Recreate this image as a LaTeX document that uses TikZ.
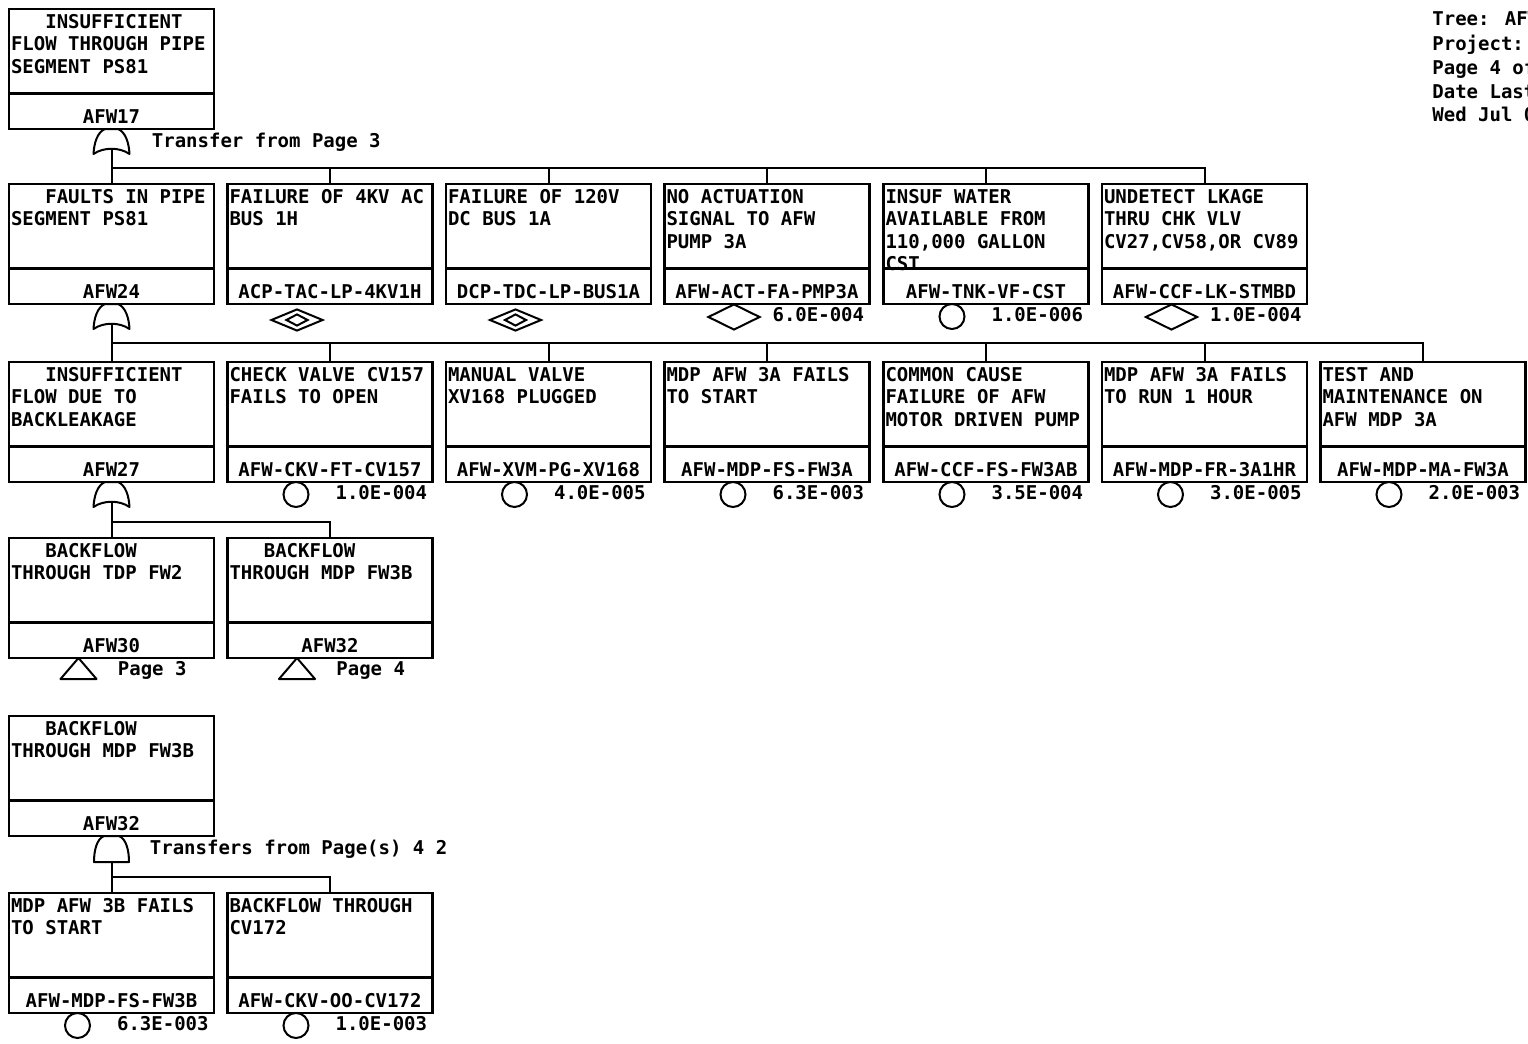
\documentclass[tikz,border=0pt]{standalone}
\usepackage{fontspec}
\setmainfont{DejaVu Sans Mono}
\usetikzlibrary{positioning,shapes.geometric,calc}

% gate and transfer symbols, drawn below a box
\newcommand{\orgate}[1]{%
  \draw[gateline,shift={(#1)}] (-6.5,0) -- (6.5,0)
    .. controls (14,3) and (17.5,14) .. (18,25)
    .. controls (8,18) and (-8,18) .. (-18,25)
    .. controls (-17.5,14) and (-14,3) .. (-6.5,0) -- cycle;}
\newcommand{\andgate}[1]{%
  \draw[gateline,shift={(#1)}] (-7.5,0) -- (7.5,0)
    .. controls (15,3) and (17.5,15) .. (17.5,26) -- (-17.5,26)
    .. controls (-17.5,15) and (-15,3) .. (-7.5,0) -- cycle;}
\newcommand{\transfer}[1]{%
  \draw[gateline,shift={(#1)}] (0,0) -- (18,21) -- (-18,21) -- cycle;}

\begin{document}
\begin{tikzpicture}[x=0.5pt,y=-0.5pt,
  every node/.style={font=\fontsize{9.5}{11.25}\selectfont\bfseries},
  descbox/.style={draw,line width=1.1pt,anchor=north west,inner sep=0pt,
    outer sep=0pt,minimum width=102.5pt,
    execute at begin node={\begin{minipage}[c][42.25pt][t]{100.5pt}\baselineskip=11.25pt\rule{0pt}{9.5pt}},
    execute at end node={\end{minipage}}},
  idbox/.style={draw,line width=1.1pt,inner sep=0pt,outer sep=0pt,
    minimum width=102.5pt,minimum height=17.75pt,text height=12.5pt,text depth=0pt},
  basic/.style={circle,draw,line width=1pt,inner sep=0pt,minimum size=12.5pt},
  undev/.style={diamond,draw,line width=1pt,inner sep=0pt,
    minimum width=26pt,minimum height=13pt},
  house/.style={diamond,draw,line width=1pt,inner sep=0pt,
    minimum width=26pt,minimum height=11pt},
  housein/.style={diamond,draw,line width=1pt,inner sep=0pt,
    minimum width=11pt,minimum height=6pt},
  prob/.style={anchor=north east,inner sep=0pt},
  lbl/.style={anchor=base west,inner sep=0pt},
  gateline/.style={line width=1pt,line join=round},
  wire/.style={line width=1pt}]
\useasboundingbox (0,0) rectangle (1528,1044);

% header, cut by the page edge
\begin{scope}
\clip (0,0) rectangle (1528,1044);
\node[lbl] (H1) at (1432,25.5)  {Tree: AFW};
\node[lbl] (H2) at (1432,50)    {Project:};
\node[lbl] (H3) at (1432,74)    {Page 4 of};
\node[lbl] (H4) at (1432,98)    {Date Last};
\node[lbl] (H5) at (1432,121.5) {Wed Jul 0};
\end{scope}

% top event
\node[descbox] (D17) at (9,9) {\ \ \ INSUFFICIENT\\FLOW THROUGH PIPE\\SEGMENT PS81};
\node[idbox,below=0pt of D17] (N17) {AFW17};
\orgate{N17.south}
\node[lbl] (X17) at ($(N17.south)+(40,18)$) {Transfer from Page 3};

% second row
\node[descbox] (D24)  at (9,184)      {\ \ \ FAULTS IN PIPE\\SEGMENT PS81};
\node[descbox] (D4KV) at (227.5,184)  {FAILURE OF 4KV AC\\BUS 1H};
\node[descbox] (DBUS) at (446,184)    {FAILURE OF 120V\\DC BUS 1A};
\node[descbox] (DACT) at (664.5,184)  {NO ACTUATION\\SIGNAL TO AFW\\PUMP 3A};
\node[descbox] (DCST) at (883.5,184)  {INSUF WATER\\AVAILABLE FROM\\110,000 GALLON\\CST};
\node[descbox] (DLK)  at (1102,184)   {UNDETECT LKAGE\\THRU CHK VLV\\CV27,CV58,OR CV89};
\node[idbox,below=0pt of D24]  (N24)  {AFW24};
\node[idbox,below=0pt of D4KV] (N4KV) {ACP-TAC-LP-4KV1H};
\node[idbox,below=0pt of DBUS] (NBUS) {DCP-TDC-LP-BUS1A};
\node[idbox,below=0pt of DACT] (NACT) {AFW-ACT-FA-PMP3A};
\node[idbox,below=0pt of DCST] (NCST) {AFW-TNK-VF-CST};
\node[idbox,below=0pt of DLK]  (NLK)  {AFW-CCF-LK-STMBD};
\orgate{N24.south}
\node[house]   (S4KV)  at ($(N4KV.south)+(-33,16)$) {};
\node[housein] (S4KVi) at (S4KV) {};
\node[house]   (SBUS)  at ($(NBUS.south)+(-33,16)$) {};
\node[housein] (SBUSi) at (SBUS) {};
\node[undev] (SACT) at ($(NACT.south)+(-33,13)$) {};
\node[basic] (SCST) at ($(NCST.south)+(-34,12.5)$) {};
\node[undev] (SLK)  at ($(NLK.south)+(-33,13)$) {};
\node[prob] (PACT) at ($(NACT.south east)+(-5,3)$) {6.0E-004};
\node[prob] (PCST) at ($(NCST.south east)+(-5,3)$) {1.0E-006};
\node[prob] (PLK)  at ($(NLK.south east)+(-5,3)$)  {1.0E-004};

% third row
\node[descbox] (D27)   at (9,362)      {\ \ \ INSUFFICIENT\\FLOW DUE TO\\BACKLEAKAGE};
\node[descbox] (DFT)   at (227.5,362)  {CHECK VALVE CV157\\FAILS TO OPEN};
\node[descbox] (DPG)   at (446,362)    {MANUAL VALVE\\XV168 PLUGGED};
\node[descbox] (DFS3A) at (664.5,362)  {MDP AFW 3A FAILS\\TO START};
\node[descbox] (DCCF)  at (883.5,362)  {COMMON CAUSE\\FAILURE OF AFW\\MOTOR DRIVEN PUMP};
\node[descbox] (DFR)   at (1102,362)   {MDP AFW 3A FAILS\\TO RUN 1 HOUR};
\node[descbox] (DMA)   at (1320.5,362) {TEST AND\\MAINTENANCE ON\\AFW MDP 3A};
\node[idbox,below=0pt of D27]   (N27)   {AFW27};
\node[idbox,below=0pt of DFT]   (NFT)   {AFW-CKV-FT-CV157};
\node[idbox,below=0pt of DPG]   (NPG)   {AFW-XVM-PG-XV168};
\node[idbox,below=0pt of DFS3A] (NFS3A) {AFW-MDP-FS-FW3A};
\node[idbox,below=0pt of DCCF]  (NCCF)  {AFW-CCF-FS-FW3AB};
\node[idbox,below=0pt of DFR]   (NFR)   {AFW-MDP-FR-3A1HR};
\node[idbox,below=0pt of DMA]   (NMA)   {AFW-MDP-MA-FW3A};
\orgate{N27.south}
\node[basic] (SFT)   at ($(NFT.south)+(-34,12.5)$)   {};
\node[basic] (SPG)   at ($(NPG.south)+(-34,12.5)$)   {};
\node[basic] (SFS3A) at ($(NFS3A.south)+(-34,12.5)$) {};
\node[basic] (SCCF)  at ($(NCCF.south)+(-34,12.5)$)  {};
\node[basic] (SFR)   at ($(NFR.south)+(-34,12.5)$)   {};
\node[basic] (SMA)   at ($(NMA.south)+(-34,12.5)$)   {};
\node[prob] (PFT)   at ($(NFT.south east)+(-5,3)$)   {1.0E-004};
\node[prob] (PPG)   at ($(NPG.south east)+(-5,3)$)   {4.0E-005};
\node[prob] (PFS3A) at ($(NFS3A.south east)+(-5,3)$) {6.3E-003};
\node[prob] (PCCF)  at ($(NCCF.south east)+(-5,3)$)  {3.5E-004};
\node[prob] (PFR)   at ($(NFR.south east)+(-5,3)$)   {3.0E-005};
\node[prob] (PMA)   at ($(NMA.south east)+(-5,3)$)   {2.0E-003};

% fourth row: transfers
\node[descbox] (D30)  at (9,538)     {\ \ \ BACKFLOW\\THROUGH TDP FW2};
\node[descbox] (D32T) at (227.5,538) {\ \ \ BACKFLOW\\THROUGH MDP FW3B};
\node[idbox,below=0pt of D30]  (N30)  {AFW30};
\node[idbox,below=0pt of D32T] (N32T) {AFW32};
\coordinate (T30)  at ($(N30.south)+(-33,0)$);
\coordinate (T32T) at ($(N32T.south)+(-33,0)$);
\transfer{T30}
\transfer{T32T}
\node[lbl] (L30)  at ($(N30.south)+(6,17)$)  {Page 3};
\node[lbl] (L32T) at ($(N32T.south)+(6,17)$) {Page 4};

% transferred gate AFW32
\node[descbox] (D32) at (9,716) {\ \ \ BACKFLOW\\THROUGH MDP FW3B};
\node[idbox,below=0pt of D32] (N32) {AFW32};
\andgate{N32.south}
\node[lbl] (X32) at ($(N32.south)+(38,18)$) {Transfers from Page(s) 4 2};

\node[descbox] (DFS3B) at (9,893)     {MDP AFW 3B FAILS\\TO START};
\node[descbox] (DOO)   at (227.5,893) {BACKFLOW THROUGH\\CV172};
\node[idbox,below=0pt of DFS3B] (NFS3B) {AFW-MDP-FS-FW3B};
\node[idbox,below=0pt of DOO]   (NOO)   {AFW-CKV-OO-CV172};
\node[basic] (SFS3B) at ($(NFS3B.south)+(-34,12.5)$) {};
\node[basic] (SOO)   at ($(NOO.south)+(-34,12.5)$)   {};
\node[prob] (PFS3B) at ($(NFS3B.south east)+(-5,3)$) {6.3E-003};
\node[prob] (POO)   at ($(NOO.south east)+(-5,3)$)   {1.0E-003};

% gate outputs and bars
\coordinate (G17) at ($(N17.south)+(0,20)$);
\coordinate (G24) at ($(N24.south)+(0,20)$);
\coordinate (G27) at ($(N27.south)+(0,20)$);
\coordinate (G32) at ($(N32.south)+(0,26)$);
\coordinate (B17) at (0,168);
\coordinate (B24) at (0,343);
\coordinate (B27) at (0,522);
\coordinate (B32) at (0,877);
\foreach \c in {D24,D4KV,DBUS,DACT,DCST,DLK}
  \draw[wire] (G17) |- (B17 -| \c.north) -- (\c.north);
\foreach \c in {D27,DFT,DPG,DFS3A,DCCF,DFR,DMA}
  \draw[wire] (G24) |- (B24 -| \c.north) -- (\c.north);
\foreach \c in {D30,D32T}
  \draw[wire] (G27) |- (B27 -| \c.north) -- (\c.north);
\foreach \c in {DFS3B,DOO}
  \draw[wire] (G32) |- (B32 -| \c.north) -- (\c.north);
\end{tikzpicture}
\end{document}
